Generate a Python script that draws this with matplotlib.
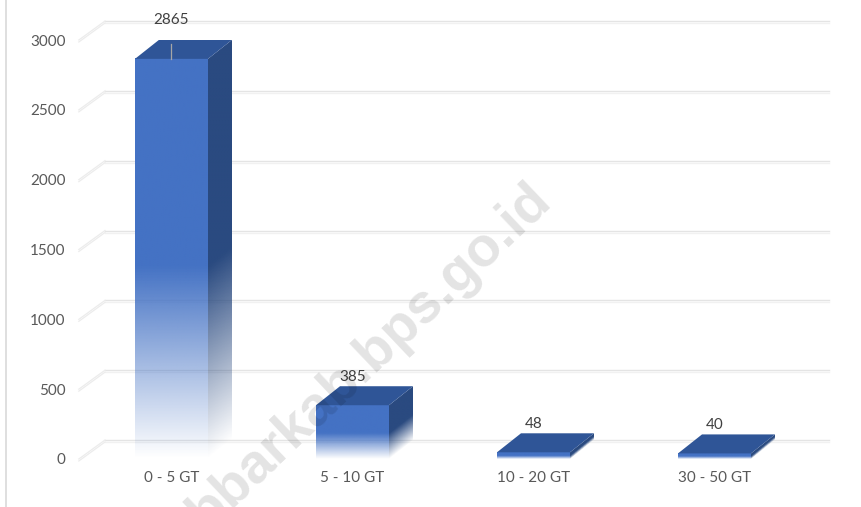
import numpy as np
import matplotlib
matplotlib.use("Agg")
import matplotlib.pyplot as plt
from matplotlib.colors import to_rgb
from matplotlib.patches import Polygon

categories = ["0 - 5 GT", "5 - 10 GT", "10 - 20 GT", "30 - 50 GT"]
values = [2865, 385, 48, 40]
y_ticks = [0, 500, 1000, 1500, 2000, 2500, 3000]

W, H = 862, 507
plt.rcParams["font.family"] = ["Lato", "DejaVu Sans"]

FRONT = "#4472C4"
TOP = "#2F5597"
SIDE = "#2A4A80"
BAR_W = 73 / 181
DX = 24 / 181           # depth of the 3d box, in data units
DY = 19 / 419 * 3000
FADE = 0.48             # lower part of each bar fades out


def px_y(n):
    # n pixels expressed in y data units
    return n / 419 * 3000


def rgba_image(color, alpha):
    img = np.zeros(alpha.shape + (4,))
    img[..., :3] = to_rgb(color)
    img[..., 3] = alpha
    return img


def draw_bar(ax, x, v):
    x0, x1 = x - BAR_W / 2, x + BAR_W / 2

    # front face
    t = np.linspace(1, 0, 200).reshape(-1, 1)
    ax.imshow(rgba_image(FRONT, np.clip(t / FADE, 0, 1)), extent=[x0, x1, 0, v],
              aspect="auto", zorder=3, interpolation="bilinear")

    # side face, the fade follows the slanted bottom edge
    xs = np.linspace(0, 1, 40)
    ys = np.linspace(v + DY, 0, 300)
    gx, gy = np.meshgrid(xs, ys)
    alpha = np.clip((gy - DY * gx) / v / FADE, 0, 1)
    im = ax.imshow(rgba_image(SIDE, alpha), extent=[x1, x1 + DX, 0, v + DY],
                   aspect="auto", zorder=3, interpolation="bilinear")
    clip = Polygon([(x1, 0), (x1 + DX, DY), (x1 + DX, v + DY), (x1, v)],
                   transform=ax.transData, fill=False, edgecolor="none")
    ax.add_patch(clip)
    im.set_clip_path(clip)

    # top face
    ax.add_patch(Polygon([(x0, v), (x1, v), (x1 + DX, v + DY), (x0 + DX, v + DY)],
                         facecolor=TOP, edgecolor="none", zorder=4))


fig = plt.figure(figsize=(W / 100, H / 100), dpi=100)
ax = fig.add_axes([81 / W, (H - 459) / H, 724 / W, 419 / H])

# gridlines on the back wall plus the slanted bit on the left wall
left, right = -0.5, 3.5
for tick in y_ticks:
    for off, col in [(0, "#e4e4e4"), (px_y(-2), "#f1f1f1")]:
        ax.plot([left + DX, right + DX], [tick + DY + off] * 2, color=col,
                lw=1.0, zorder=1, clip_on=False)
        ax.plot([left - 0.012, left + DX], [tick + off, tick + DY + off],
                color="#ececec", lw=0.9, zorder=1, clip_on=False)

for i, v in enumerate(values):
    draw_bar(ax, i, v)

# labels above the bars
for i, v in enumerate(values):
    lift = 38.5 if i == 0 else 28.5
    ax.text(i, v + px_y(lift), str(v), ha="center", va="center",
            fontsize=11, color="#404040", zorder=6, clip_on=False)

# leader line of the first label
ax.plot([0, 0], [values[0], values[0] + DY - px_y(4)], color="#a6a6a6", lw=0.9,
        zorder=5, clip_on=False)

ax.set_xlim(left, right)
ax.set_ylim(0, 3000)
ax.set_xticks(range(len(categories)), categories)
ax.set_yticks(y_ticks)
ax.tick_params(axis="x", length=0, pad=9, labelsize=11, labelcolor="#595959")
ax.tick_params(axis="y", length=0, pad=11, labelsize=11, labelcolor="#595959")
for s in ax.spines.values():
    s.set_visible(False)
ax.patch.set_alpha(0)

# thin border on the left of the picture
fig.add_artist(plt.Line2D([6.5 / W, 6.5 / W], [0, 1], color="#d9d9d9", lw=1.2))

# watermark
fig.text(543 / W, 1 - 192 / H, "bbarkab.bps.go.id", rotation=43.5,
         rotation_mode="anchor", ha="right", va="center", fontsize=40,
         fontweight="bold", family="Liberation Sans", color="black", alpha=0.11,
         zorder=10)

fig.savefig("out.png", dpi=100)
